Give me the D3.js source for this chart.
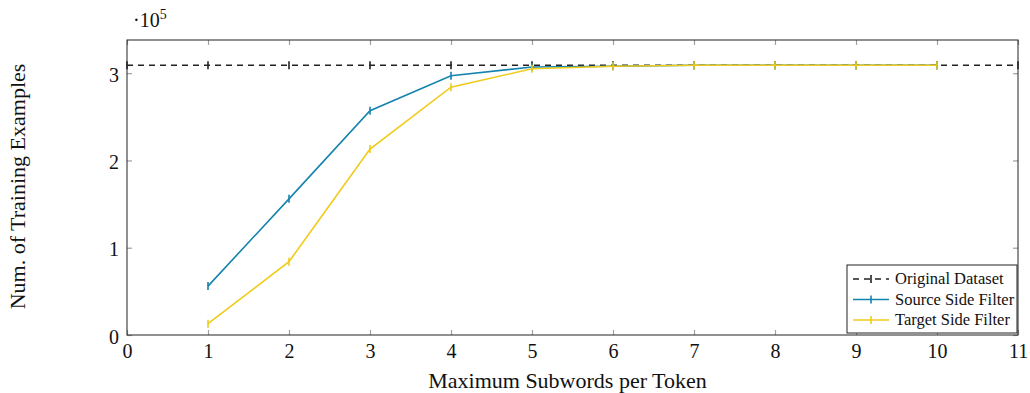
<html><head>
<script src="https://d3js.org/d3.v7.min.js"></script>
<style>
  body { margin: 0; background: #fff; }
  text { font-family: "Liberation Serif", "DejaVu Serif", serif; }
</style>
</head>
<body>
<div id="chart"></div>
<script>
    const svgWidth = 1030;
    const svgHeight = 393;
    const margin = {left: 127, right: 12, top: 40, bottom: 58};
    const width = svgWidth - margin.left - margin.right;
    const height = svgHeight - margin.top - margin.bottom;

    // data (values in units of 10^5)
    const xTicks = [0,1,2,3,4,5,6,7,8,9,10,11];
    const yTicks = [0,1,2,3];
    const originalX = [0,1,2,3,4,5,6,7,8,9,10,11];
    const originalY = [3.09,3.09,3.09,3.09,3.09,3.09,3.09,3.09,3.09,3.09,3.09,3.09];
    const subwords = [1,2,3,4,5,6,7,8,9,10];
    const sourceY = [0.56,1.56,2.57,2.97,3.07,3.08,3.09,3.09,3.09,3.09];
    const targetY = [0.13,0.84,2.13,2.84,3.05,3.08,3.09,3.09,3.09,3.09];

    const blue = "#1683ae";
    const yellow = "#f0cb1a";

    const svg = d3.select("#chart").append("svg")
        .attr("width", svgWidth)
        .attr("height", svgHeight);

    const g = svg.append("g").attr("transform", "translate(" + margin.left + "," + margin.top + ")");

    const x = d3.scaleLinear().domain([0, 11]).range([0, width]);
    const y = d3.scaleLinear().domain([0, 3.38]).range([height, 0]);

    // inward ticks on all sides
    function ticks(axis, transform) {
        const a = g.append("g").attr("transform", transform).call(axis);
        a.select(".domain").remove();
        a.selectAll(".tick line").attr("stroke", "#a0a0a0").attr("stroke-width", 1.2);
        return a;
    }
    const bottom = ticks(d3.axisBottom(x).tickValues(xTicks).tickSize(-5).tickPadding(9), "translate(0," + height + ")");
    bottom.selectAll("text").attr("font-size", 20).attr("fill", "#111");
    ticks(d3.axisTop(x).tickValues(xTicks).tickSize(-5).tickFormat(""), "translate(0,0)");
    const left = ticks(d3.axisLeft(y).tickValues(yTicks).tickSize(-5).tickPadding(8).tickFormat(d3.format("d")), "translate(0,0)");
    left.selectAll("text").attr("font-size", 20).attr("fill", "#111").attr("dy", "0.4em");
    ticks(d3.axisRight(y).tickValues(yTicks).tickSize(-5).tickFormat(""), "translate(" + width + ",0)");

    // frame
    g.append("rect").attr("width", width).attr("height", height)
        .attr("fill", "none").attr("stroke", "#222").attr("stroke-width", 1);

    function series(xs, ys, color, dash) {
        const pts = xs.map((d, i) => [d, ys[i]]);
        g.append("path").datum(pts)
            .attr("fill", "none").attr("stroke", color).attr("stroke-width", 1.6)
            .attr("stroke-dasharray", dash)
            .attr("d", d3.line().x(d => x(d[0])).y(d => y(d[1])));
        g.selectAll(null).data(pts).enter().append("line")
            .attr("x1", d => x(d[0])).attr("x2", d => x(d[0]))
            .attr("y1", d => y(d[1]) - 4).attr("y2", d => y(d[1]) + 4)
            .attr("stroke", color).attr("stroke-width", 1.6);
    }
    series(originalX, originalY, "#222", "6,5");
    series(subwords, sourceY, blue, null);
    series(subwords, targetY, yellow, null);

    // exponent label
    const ex = svg.append("text").attr("x", 133).attr("y", 27).attr("font-size", 20).attr("fill", "#111");
    ex.append("tspan").text("·10");
    ex.append("tspan").attr("font-size", 14).attr("dy", -8).text("5");

    // axis titles
    svg.append("text")
        .attr("x", margin.left + width / 2 - 5).attr("y", 388)
        .attr("text-anchor", "middle").attr("font-size", 22).attr("fill", "#111")
        .text("Maximum Subwords per Token");
    svg.append("text")
        .attr("transform", "translate(25," + (margin.top + height / 2 - 1) + ") rotate(-90)")
        .attr("text-anchor", "middle").attr("font-size", 22).attr("fill", "#111")
        .text("Num. of Training Examples");

    // legend
    const legendNames = ["Original Dataset", "Source Side Filter", "Target Side Filter"];
    const legendColors = ["#222", blue, yellow];
    const legendDash = ["6,5", null, null];
    const lg = svg.append("g").attr("transform", "translate(847,265)");
    lg.append("rect").attr("width", 170).attr("height", 68)
        .attr("fill", "#fff").attr("stroke", "#222").attr("stroke-width", 1);
    legendNames.forEach((name, i) => {
        const cy = 14 + i * 20.5;
        lg.append("line").attr("x1", 6).attr("x2", 42).attr("y1", cy).attr("y2", cy)
            .attr("stroke", legendColors[i]).attr("stroke-width", 1.6)
            .attr("stroke-dasharray", legendDash[i]);
        lg.append("line").attr("x1", 24).attr("x2", 24).attr("y1", cy - 4).attr("y2", cy + 4)
            .attr("stroke", legendColors[i]).attr("stroke-width", 1.6);
        lg.append("text").attr("x", 48).attr("y", cy + 5)
            .attr("font-size", 16.5).attr("fill", "#111").text(name);
    });
</script>
</body></html>
